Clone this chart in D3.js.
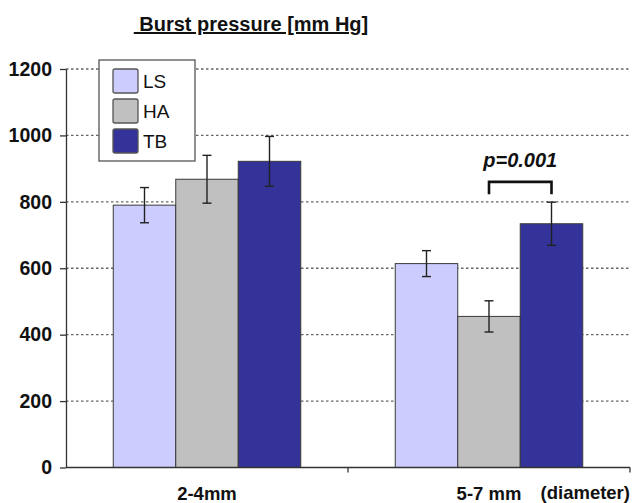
<!DOCTYPE html>
<html>
<head>
<meta charset="utf-8">
<script src="https://cdn.jsdelivr.net/npm/d3@7"></script>
<style>
  html, body { margin: 0; padding: 0; background: #fff; }
  svg { display: block; font-family: Arial, "Liberation Sans", sans-serif; }
</style>
</head>
<body>
<svg id="chart" width="632" height="503"></svg>
<script>
// ---- data ----
const categories = ["2-4mm", "5-7 mm"];
const series = ["LS", "HA", "TB"];
const seriesColors = ["#ccccff", "#c0c0c0", "#333399"];
const valuesLS = [790, 614];
const valuesHA = [868, 455];
const valuesTB = [922, 734];
const errLS = [53, 39];
const errHA = [72, 47];
const errTB = [75, 65];
const yTicks = [0, 200, 400, 600, 800, 1000, 1200];
const title = " Burst pressure [mm Hg]";
const pLabel = "p=0.001";
const extraXLabel = "(diameter)";

const values = [valuesLS, valuesHA, valuesTB];
const errors = [errLS, errHA, errTB];

const svg = d3.select("#chart");

const x0 = d3.scaleBand().domain(categories).range([66, 630]).paddingInner(0).paddingOuter(0);
const x1 = d3.scaleBand().domain(series).range([0, x0.bandwidth()]).paddingInner(0).paddingOuter(0.756);
const y = d3.scaleLinear().domain([0, 1200]).range([467.5, 69]);

// gridlines
svg.append("g").selectAll("line")
  .data(yTicks.filter(d => d > 0))
  .join("line")
  .attr("x1", 66).attr("x2", 630)
  .attr("y1", d => y(d)).attr("y2", d => y(d))
  .attr("stroke", "#666").attr("stroke-width", 1.3)
  .attr("stroke-dasharray", "2.5,2.5");

// bars
const rows = [];
categories.forEach((c, ci) => series.forEach((s, si) => rows.push({
  cat: c, ser: s, si, v: values[si][ci], e: errors[si][ci]
})));

svg.append("g").selectAll("rect")
  .data(rows)
  .join("rect")
  .attr("x", d => x0(d.cat) + x1(d.ser))
  .attr("y", d => y(d.v))
  .attr("width", x1.bandwidth())
  .attr("height", d => y(0) - y(d.v))
  .attr("fill", d => seriesColors[d.si])
  .attr("stroke", "#3a3a3a").attr("stroke-width", 1);

// error bars
const eg = svg.append("g").attr("stroke", "#222").attr("stroke-width", 1.4);
rows.forEach(d => {
  const cx = x0(d.cat) + x1(d.ser) + x1.bandwidth() / 2;
  eg.append("line").attr("x1", cx).attr("x2", cx).attr("y1", y(d.v + d.e)).attr("y2", y(d.v - d.e));
  eg.append("line").attr("x1", cx - 4.5).attr("x2", cx + 4.5).attr("y1", y(d.v + d.e)).attr("y2", y(d.v + d.e));
  eg.append("line").attr("x1", cx - 4.5).attr("x2", cx + 4.5).attr("y1", y(d.v - d.e)).attr("y2", y(d.v - d.e));
});

// y axis
const yAxis = svg.append("g")
  .attr("transform", "translate(66,0)")
  .call(d3.axisLeft(y).tickValues(yTicks).tickFormat(d3.format("d")).tickSize(6).tickPadding(8).tickSizeOuter(0));
yAxis.select(".domain").attr("stroke", "#333").attr("stroke-width", 1.3);
yAxis.selectAll(".tick line").attr("stroke", "#333").attr("stroke-width", 1.3);
yAxis.selectAll(".tick text")
  .attr("font-size", 19.5).attr("font-weight", "bold").attr("fill", "#111")
  .attr("font-family", "Arial, 'Liberation Sans', sans-serif");

// x axis
const xg = svg.append("g").attr("transform", `translate(0,${y(0)})`);
xg.append("line").attr("x1", 66).attr("x2", 630).attr("y1", 0).attr("y2", 0)
  .attr("stroke", "#333").attr("stroke-width", 1.3);
xg.selectAll(".sep")
  .data(categories)
  .join("line")
  .attr("x1", d => x0(d) + x0.bandwidth()).attr("x2", d => x0(d) + x0.bandwidth())
  .attr("y1", 0).attr("y2", 5)
  .attr("stroke", "#333").attr("stroke-width", 1.3);
xg.selectAll(".lab")
  .data(categories)
  .join("text")
  .attr("x", d => x0(d) + x0.bandwidth() / 2)
  .attr("y", 32.5)
  .attr("text-anchor", "middle")
  .attr("font-size", 18.5).attr("font-weight", "bold").attr("fill", "#111")
  .text(d => d);
xg.append("text")
  .attr("x", 630).attr("y", 31)
  .attr("text-anchor", "end")
  .attr("font-size", 18.5).attr("font-weight", "bold").attr("fill", "#111")
  .text(extraXLabel);

// title
svg.append("text")
  .attr("x", 251).attr("y", 31)
  .attr("text-anchor", "middle")
  .attr("font-size", 20).attr("font-weight", "bold").attr("fill", "#111")
  .style("white-space", "pre")
  .style("text-decoration", "underline")
  .text(title);

// significance bracket between HA and TB in second group
const cat2 = categories[1];
const bx1 = x0(cat2) + x1("HA") + x1.bandwidth() / 2;
const bx2 = x0(cat2) + x1("TB") + x1.bandwidth() / 2;
const bTop = y(860), bBot = y(823);
svg.append("path")
  .attr("d", `M${bx1},${bBot}V${bTop}H${bx2}V${bBot}`)
  .attr("fill", "none").attr("stroke", "#111").attr("stroke-width", 2.6);
svg.append("text")
  .attr("x", (bx1 + bx2) / 2).attr("y", y(905))
  .attr("text-anchor", "middle")
  .attr("font-size", 20).attr("font-weight", "bold").attr("font-style", "italic").attr("fill", "#111")
  .text(pLabel);

// legend
const lg = svg.append("g").attr("transform", "translate(99,60)");
lg.append("rect").attr("width", 96).attr("height", 101)
  .attr("fill", "#fff").attr("stroke", "#555").attr("stroke-width", 1.3);
series.forEach((s, i) => {
  lg.append("rect").attr("x", 14).attr("y", 9 + i * 30).attr("width", 25).attr("height", 24)
    .attr("rx", 2)
    .attr("fill", seriesColors[i]).attr("stroke", "#555").attr("stroke-width", 1.3);
  lg.append("text").attr("x", 44).attr("y", 21 + i * 30).attr("dy", "0.35em")
    .attr("font-size", 19).attr("fill", "#111").text(s);
});
</script>
</body>
</html>
